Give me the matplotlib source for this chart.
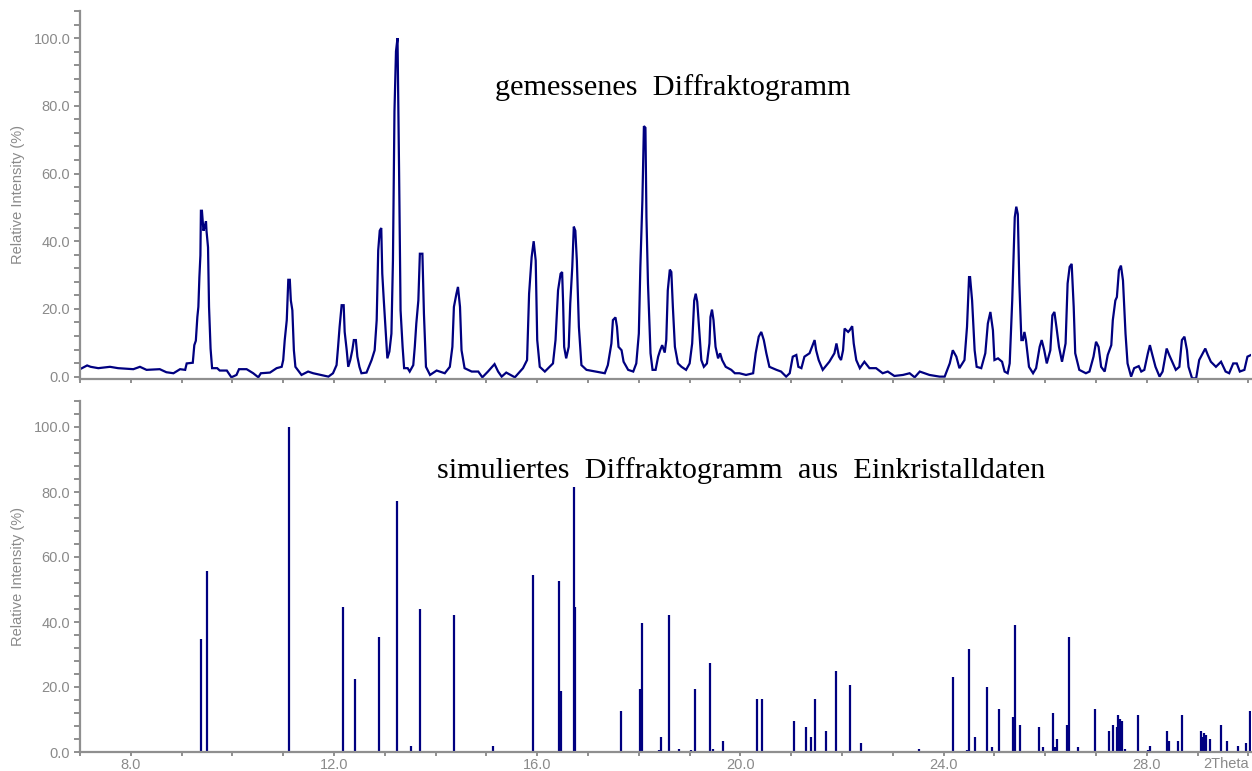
import matplotlib
matplotlib.use("Agg")
import matplotlib.pyplot as plt
from matplotlib.ticker import MultipleLocator, FormatStrFormatter, NullFormatter

# ---------------- data ----------------
meas_two_theta = [
    7.00, 7.14, 7.21, 7.36, 7.59, 7.75, 8.05, 8.18, 8.31, 8.57, 8.70, 8.84, 8.97, 9.07,
    9.10, 9.22, 9.25, 9.28, 9.31, 9.33, 9.35, 9.37, 9.38, 9.40, 9.43, 9.45, 9.48, 9.49,
    9.52, 9.54, 9.57, 9.60, 9.70, 9.75, 9.89, 9.98, 10.08, 10.13, 10.28, 10.41, 10.51,
    10.56, 10.74, 10.87, 10.97, 11.00, 11.03, 11.07, 11.10, 11.13, 11.15, 11.18, 11.21,
    11.24, 11.36, 11.49, 11.59, 11.89, 11.98, 12.05, 12.08, 12.11, 12.15, 12.19, 12.21,
    12.25, 12.28, 12.32, 12.36, 12.39, 12.43, 12.46, 12.50, 12.54, 12.64, 12.74, 12.80,
    12.84, 12.87, 12.90, 12.93, 12.95, 12.98, 13.02, 13.05, 13.09, 13.13, 13.16, 13.19,
    13.22, 13.25, 13.28, 13.31, 13.35, 13.38, 13.45, 13.49, 13.56, 13.59, 13.62, 13.66,
    13.69, 13.74, 13.77, 13.81, 13.89, 14.02, 14.18, 14.28, 14.33, 14.36, 14.41, 14.44,
    14.48, 14.51, 14.57, 14.71, 14.84, 14.92, 15.03, 15.16, 15.23, 15.30, 15.39, 15.56,
    15.72, 15.80, 15.84, 15.89, 15.93, 15.97, 16.00, 16.05, 16.15, 16.31, 16.36, 16.41,
    16.46, 16.49, 16.51, 16.53, 16.57, 16.62, 16.65, 16.69, 16.72, 16.75, 16.78, 16.82,
    16.87, 16.97, 17.33, 17.39, 17.46, 17.49, 17.54, 17.57, 17.60, 17.66, 17.70, 17.79,
    17.89, 17.95, 18.00, 18.03, 18.07, 18.10, 18.13, 18.15, 18.18, 18.23, 18.27, 18.33,
    18.38, 18.42, 18.46, 18.51, 18.54, 18.57, 18.61, 18.64, 18.67, 18.71, 18.77, 18.84,
    18.93, 19.00, 19.05, 19.09, 19.12, 19.15, 19.18, 19.23, 19.28, 19.34, 19.39, 19.41,
    19.44, 19.47, 19.51, 19.56, 19.60, 19.64, 19.71, 19.82, 19.89, 19.98, 20.11, 20.25,
    20.30, 20.36, 20.41, 20.46, 20.51, 20.57, 20.71, 20.80, 20.90, 20.97, 21.03, 21.10,
    21.14, 21.20, 21.26, 21.36, 21.46, 21.49, 21.54, 21.62, 21.75, 21.85, 21.89, 21.94,
    21.98, 22.02, 22.05, 22.12, 22.15, 22.20, 22.23, 22.28, 22.35, 22.44, 22.54, 22.67,
    22.80, 22.90, 23.03, 23.20, 23.33, 23.43, 23.53, 23.72, 23.92, 24.02, 24.12, 24.18,
    24.25, 24.31, 24.41, 24.46, 24.50, 24.52, 24.56, 24.61, 24.65, 24.74, 24.82, 24.87,
    24.92, 24.97, 25.00, 25.07, 25.15, 25.20, 25.26, 25.30, 25.35, 25.40, 25.43, 25.46,
    25.49, 25.53, 25.56, 25.59, 25.62, 25.68, 25.76, 25.82, 25.89, 25.93, 25.98, 26.03,
    26.10, 26.14, 26.18, 26.22, 26.27, 26.33, 26.40, 26.44, 26.48, 26.52, 26.56, 26.59,
    26.67, 26.80, 26.87, 26.95, 27.00, 27.05, 27.10, 27.17, 27.23, 27.30, 27.33, 27.38,
    27.41, 27.45, 27.49, 27.53, 27.58, 27.62, 27.69, 27.75, 27.84, 27.89, 27.95, 28.02,
    28.06, 28.10, 28.17, 28.25, 28.31, 28.39, 28.44, 28.50, 28.57, 28.64, 28.69, 28.74,
    28.79, 28.82, 28.89, 28.97, 29.03, 29.10, 29.15, 29.20, 29.26, 29.36, 29.46, 29.55,
    29.62, 29.70, 29.77, 29.83, 29.92, 29.98, 30.05,
]
meas_intensity = [
    2.2, 3.3, 2.9, 2.5, 2.9, 2.5, 2.2, 2.9, 2.0, 2.2, 1.3, 1.0, 2.2, 2.0,
    3.9, 4.1, 9.3, 10.6, 17.6, 20.6, 29.4, 35.8, 49.0, 49.0, 43.1, 44.1, 45.9, 43.1,
    38.2, 20.6, 8.3, 2.5, 2.5, 1.8, 1.8, -0.2, 0.5, 2.2, 2.2, 1.0, -0.2,
    1.0, 1.2, 2.5, 2.9, 4.9, 10.8, 16.7, 28.6, 28.6, 22.5, 19.6, 7.8,
    2.9, 0.5, 1.5, 1.0, 0.0, 1.0, 3.4, 8.8, 14.7, 21.1, 21.1, 13.2,
    7.8, 2.9, 4.9, 7.8, 10.8, 10.8, 5.9, 2.9, 1.0, 1.2, 4.9, 7.8,
    16.7, 37.3, 43.1, 43.9, 30.4, 22.5, 12.7, 5.4, 7.4, 12.7, 34.3, 78.4,
    96.1, 100.0, 61.8, 19.6, 8.8, 2.5, 2.5, 1.5, 3.4, 8.8, 15.7, 22.5,
    36.3, 36.3, 18.6, 2.9, 0.5, 1.8, 1.0, 2.9, 8.8, 20.6, 24.5, 26.5,
    20.6, 7.8, 2.5, 1.5, 1.5, -0.2, 1.5, 3.7, 1.5, 0.0, 1.2, -0.2,
    2.5, 4.9, 24.5, 35.3, 40.0, 34.3, 10.8, 2.9, 1.5, 3.9, 10.8, 25.5,
    30.4, 30.9, 21.6, 8.8, 5.4, 8.8, 21.6, 32.4, 44.3, 43.1, 34.3, 14.7,
    3.4, 2.0, 1.0, 3.4, 9.8, 16.7, 17.5, 14.7, 8.8, 7.8, 4.4, 2.0,
    1.5, 3.9, 12.7, 32.4, 52.0, 74.0, 73.5, 47.1, 27.5, 6.9, 2.0, 2.0,
    5.9, 7.8, 9.3, 7.1, 10.8, 25.5, 31.6, 30.9, 20.6, 8.8, 3.9, 2.9,
    2.0, 3.9, 9.8, 22.5, 24.5, 22.1, 15.7, 4.9, 2.9, 3.9, 9.8, 17.6,
    19.8, 16.7, 8.8, 5.4, 6.9, 4.9, 2.9, 2.0, 1.0, 1.0, 0.5, 1.0,
    6.9, 11.8, 13.2, 10.8, 6.9, 2.9, 2.0, 1.5, 0.0, 1.0, 5.9, 6.4,
    2.9, 2.5, 5.9, 6.9, 10.8, 7.8, 4.9, 2.0, 4.4, 6.9, 9.8, 5.9,
    4.9, 7.8, 14.2, 13.2, 13.7, 14.9, 9.8, 4.9, 2.5, 4.4, 2.5, 2.5,
    1.0, 1.5, 0.2, 0.5, 1.0, -0.2, 1.5, 0.5, 0.0, 0.0, 3.9, 7.8,
    5.9, 2.5, 4.9, 14.7, 29.4, 29.4, 22.5, 7.8, 2.9, 2.5, 6.9, 15.7,
    19.1, 13.7, 4.9, 5.4, 4.4, 1.5, 1.0, 3.9, 22.5, 47.1, 50.2, 48.0,
    27.5, 10.8, 10.8, 13.2, 10.8, 2.9, 1.0, 2.5, 8.8, 10.8, 7.8, 3.9,
    7.8, 18.1, 19.1, 14.7, 8.8, 4.4, 9.8, 27.5, 32.4, 33.3, 20.6, 6.9,
    2.0, 1.0, 1.5, 5.9, 10.3, 8.8, 2.9, 1.5, 6.4, 9.3, 16.7, 22.5,
    23.5, 31.4, 32.8, 28.4, 12.7, 3.9, 0.0, 2.5, 3.1, 1.5, 2.0, 6.9,
    9.3, 6.9, 2.9, 0.0, 1.5, 8.3, 6.4, 4.4, 2.0, 2.9, 10.8, 11.8,
    7.8, 2.9, -0.5, -0.5, 4.9, 6.9, 8.3, 6.4, 4.4, 2.9, 4.4, 1.5,
    1.0, 3.9, 3.9, 1.5, 2.0, 5.9, 6.4,
]

sim_two_theta = [
    9.38, 9.50, 11.11, 12.17, 12.41, 12.88, 13.23, 13.51, 13.70, 14.37, 15.12, 15.92,
    16.42, 16.47, 16.735, 16.73, 17.64, 18.03, 18.07, 18.39, 18.43, 18.59, 18.79, 19.03,
    19.10, 19.41, 19.46, 19.65, 20.32, 20.43, 21.06, 21.30, 21.38, 21.46, 21.69, 21.88,
    22.16, 22.37, 22.96, 23.51, 24.18, 24.45, 24.49, 24.61, 24.85, 24.96, 25.08, 25.36,
    25.40, 25.51, 25.87, 25.95, 26.15, 26.19, 26.23, 26.34, 26.42, 26.46, 26.65, 26.97,
    27.25, 27.33, 27.41, 27.44, 27.48, 27.52, 27.56, 27.83, 28.03, 28.07, 28.39, 28.43,
    28.62, 28.70, 29.06, 29.09, 29.13, 29.17, 29.25, 29.45, 29.57, 29.80, 29.96, 30.04,
]
sim_intensity = [
    34.7, 55.7, 100.0, 44.6, 22.4, 35.3, 77.3, 2.0, 43.9, 42.1, 2.0, 54.5,
    52.6, 18.7, 44.6, 81.6, 12.5, 19.3, 39.7, 0.5, 4.5, 42.1, 0.8, 0.5,
    19.3, 27.3, 0.8, 3.3, 16.2, 16.2, 9.4, 7.6, 4.5, 16.2, 6.4, 24.9,
    20.6, 2.7, 0.3, 0.8, 23.0, 0.5, 31.7, 4.5, 20.0, 1.4, 13.2, 10.7,
    39.1, 8.2, 7.6, 1.4, 11.9, 1.4, 3.9, 0.3, 8.2, 35.4, 1.4, 13.2,
    6.4, 8.2, 7.6, 11.3, 10.1, 9.4, 0.8, 11.3, 0.5, 2.0, 6.4, 3.3,
    3.3, 11.3, 6.4, 4.5, 5.7, 5.1, 3.9, 8.2, 3.3, 2.0, 2.7, 12.5,
]

major_x_ticks = [8.0, 12.0, 16.0, 20.0, 24.0, 28.0]
title_measured = "gemessenes  Diffraktogramm"
title_simulated = "simuliertes  Diffraktogramm  aus  Einkristalldaten"
y_label = "Relative Intensity (%)"
x_label = "2Theta"

# ---------------- style ----------------
W, H = 1252, 771
DPI = 100
LINE = "#000080"
GREY = "#8a8a8a"
SPINE = "#8f8f8f"
plt.rcParams["font.family"] = ["Liberation Sans", "DejaVu Sans"]

fig = plt.figure(figsize=(W / DPI, H / DPI), dpi=DPI)


def px_axes(left, top, right, bottom):
    return fig.add_axes([left / W, 1 - bottom / H, (right - left) / W, (bottom - top) / H])


ax1 = px_axes(80, 11, 1251, 379)
ax2 = px_axes(80, 401, 1251, 752)

ax1.plot(meas_two_theta, meas_intensity, color=LINE, lw=1.6, solid_joinstyle="miter")
ax2.vlines(sim_two_theta, 0, sim_intensity, color=LINE, lw=1.6)

XMIN, XMAX = 7.0, 30.05
ax1.set_xlim(XMIN, XMAX)
ax2.set_xlim(XMIN, XMAX)
ax1.set_ylim(-0.7, 108)
ax2.set_ylim(0, 108)

for ax in (ax1, ax2):
    for s in ("top", "right"):
        ax.spines[s].set_visible(False)
    for s in ("left", "bottom"):
        ax.spines[s].set_color(SPINE)
        ax.spines[s].set_linewidth(1.6)
    ax.set_xticks(major_x_ticks)
    ax.xaxis.set_minor_locator(MultipleLocator(1.0))
    ax.yaxis.set_major_locator(MultipleLocator(20))
    ax.yaxis.set_minor_locator(MultipleLocator(4))
    ax.yaxis.set_major_formatter(FormatStrFormatter("%.1f"))
    ax.xaxis.set_major_formatter(FormatStrFormatter("%.1f"))
    ax.tick_params(axis="both", which="both", direction="out", color=SPINE,
                   width=1.4, labelcolor=GREY, labelsize=10.5)
    ax.tick_params(axis="y", which="major", length=4.5, pad=2.5)
    ax.tick_params(axis="y", which="minor", length=4.0)
    ax.tick_params(axis="x", which="both", length=3.0, pad=1.2)
    ax.set_facecolor("none")

ax1.xaxis.set_major_formatter(NullFormatter())

# y labels
for top, bottom in ((11, 379), (401, 752)):
    fig.text(18 / W, 1 - (top + bottom) / 2 / H, y_label, rotation=90,
             ha="center", va="center", color=GREY, fontsize=10.5)

# 2Theta label at bottom right
fig.text(1249 / W, 1 - 764 / H, x_label, ha="right", va="center",
         color=GREY, fontsize=10.5)

# titles
fig.text(673 / W, 1 - 95 / H, title_measured, ha="center", va="baseline",
         fontsize=21.8, family=["Liberation Serif", "DejaVu Serif"], color="black")
fig.text(741 / W, 1 - 478 / H, title_simulated, ha="center", va="baseline",
         fontsize=21.8, family=["Liberation Serif", "DejaVu Serif"], color="black")

fig.savefig("out.png", dpi=DPI)
